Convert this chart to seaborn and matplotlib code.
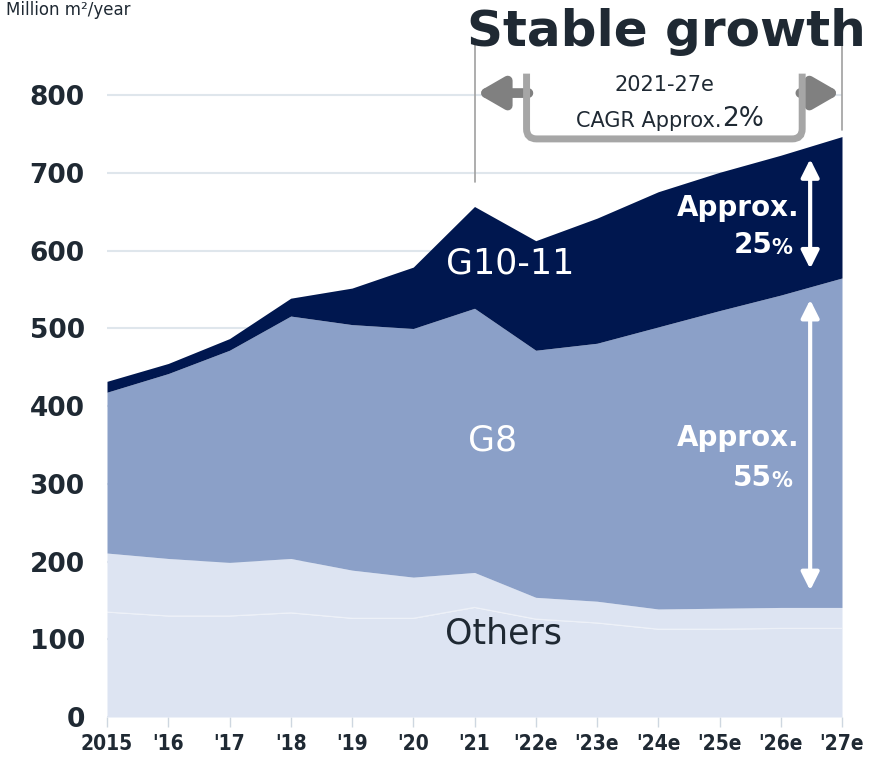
import numpy as np
import pandas as pd
import seaborn as sns
import matplotlib.pyplot as plt
from matplotlib.path import Path
from matplotlib.patches import PathPatch
from matplotlib.transforms import IdentityTransform

# values in million m2 / year
years = ["2015", "'16", "'17", "'18", "'19", "'20", "'21",
         "'22e", "'23e", "'24e", "'25e", "'26e", "'27e"]
others_lower = [135, 130, 130, 134, 127, 127, 141, 126, 121, 113, 113, 114, 114]
others_upper = [76, 74, 69, 70, 62, 53, 45, 28, 28, 26, 27, 27, 27]
g8 = [207, 238, 273, 312, 316, 320, 340, 318, 332, 363, 383, 402, 424]
g10_11 = [14, 13, 15, 23, 47, 79, 131, 141, 161, 174, 178, 180, 182]
y_ticks = [0, 100, 200, 300, 400, 500, 600, 700, 800]

c_others = "#DDE4F2"
c_g8 = "#8BA0C8"
c_g10 = "#00174F"
c_text = "#1F2933"

sns.set_theme(style="white")
plt.rcParams["font.family"] = ["DejaVu Sans"]

df = pd.DataFrame({"year": years, "others_lower": others_lower, "others_upper": others_upper,
                   "G8": g8, "G10-11": g10_11})
x = np.arange(len(df))

fig = plt.figure(figsize=(8.82, 7.58), dpi=100)
ax = fig.add_axes([107 / 882, 41 / 758, 735 / 882, 676 / 758])

ax.stackplot(x, df["others_lower"], df["others_upper"], df["G8"], df["G10-11"],
             colors=[c_others, c_others, c_g8, c_g10], linewidth=0, zorder=2)
# faint split inside the Others band
ax.plot(x, df["others_lower"], color="white", lw=0.9, alpha=0.45, zorder=3)

ax.set_xlim(0, len(df) - 1)
ax.set_ylim(0, 870)
ax.set_yticks(y_ticks)
ax.set_yticklabels([str(v) for v in y_ticks], fontsize=19, fontweight="bold", color=c_text)
ax.set_xticks(x)
ax.set_xticklabels(years, fontsize=15, fontweight="bold", color=c_text, fontstretch="condensed")
ax.grid(axis="y", color="#DFE6EC", lw=1.5, zorder=0)
ax.grid(axis="x", visible=False)
ax.set_axisbelow(True)
sns.despine(ax=ax, left=True, bottom=True, top=True, right=True)
ax.tick_params(axis="x", bottom=True, length=7, width=1, color="#CED7E0", pad=5)
ax.tick_params(axis="y", left=False, length=0, pad=16)

# unit label at the top left
fig.text(6 / 882, 1 - 1 / 758, "Million m\u00b2/year", ha="left", va="top",
         fontsize=12, color=c_text)

# series labels
ax.text(6.58, 584, "G10-11", color="white", fontsize=25, ha="center", va="center", zorder=5)
ax.text(6.3, 356, "G8", color="white", fontsize=25, ha="center", va="center", zorder=5)
ax.text(6.47, 108, "Others", color=c_text, fontsize=25, ha="center", va="center", zorder=5)

# share arrows and labels
arr = dict(arrowstyle="<|-|>,head_length=0.9,head_width=0.45", color="white", lw=3,
           shrinkA=0, shrinkB=0)
ax.annotate("", xy=(11.48, 577), xytext=(11.48, 718), arrowprops=arr, zorder=6)
ax.annotate("", xy=(11.48, 163), xytext=(11.48, 537), arrowprops=arr, zorder=6)
for y_top, y_pct, pct in [(655, 607, "25"), (359, 307, "55")]:
    ax.text(11.31, y_top, "Approx.", color="white", fontsize=20, fontweight="bold",
            ha="right", va="center", zorder=6)
    ax.text(10.86, y_pct, pct, color="white", fontsize=20, fontweight="bold",
            ha="right", va="center", zorder=6)
    ax.text(10.85, y_pct - 3, "%", color="white", fontsize=15, fontweight="bold",
            ha="left", va="center", zorder=6)

# CAGR bracket and arrows above the plot
ax.plot([6, 6], [688, 872], color="#A0A0A0", lw=1.2, clip_on=False, zorder=4)
ax.plot([12, 12], [755, 866], color="#A0A0A0", lw=1.2, clip_on=False, zorder=4)
ax.fill_between([6.85, 11.35], 745, 830, color="white", zorder=3.5, clip_on=False)

# rounded U-shaped bracket, corners built in pixel space
fig.canvas.draw()
(xl, yt), (xr, yb) = ax.transData.transform([(6.85, 828), (11.35, 744)])
r = 10
verts = [(xl, yt), (xl, yb + r), (xl, yb), (xl + r, yb), (xr - r, yb), (xr, yb),
         (xr, yb + r), (xr, yt)]
codes = [Path.MOVETO, Path.LINETO, Path.CURVE3, Path.CURVE3, Path.LINETO,
         Path.CURVE3, Path.CURVE3, Path.LINETO]
fig.add_artist(PathPatch(Path(verts, codes), fill=False, ec="#A6A6A6", lw=5,
                         capstyle="butt", transform=IdentityTransform(), zorder=4.6))

gar = dict(arrowstyle="-|>,head_length=1.3,head_width=0.75", color="#808080", lw=7,
           shrinkA=0, shrinkB=0)
ax.annotate("", xy=(6.03, 803), xytext=(6.88, 803), arrowprops=gar,
            annotation_clip=False, zorder=5)
ax.annotate("", xy=(11.98, 803), xytext=(11.32, 803), arrowprops=gar,
            annotation_clip=False, zorder=5)
ax.text(9.1, 813, "2021-27e", fontsize=15, color=c_text, ha="center", va="center",
        zorder=6)
ax.text(10.04, 767, "CAGR Approx.", fontsize=15, color=c_text, ha="right", va="center",
        zorder=6)
ax.text(10.04, 769, "2%", fontsize=19, color=c_text, ha="left", va="center", zorder=6)

fig.text(666 / 882, 1 - 32 / 758, "Stable growth", fontsize=36, fontweight="bold",
         color=c_text, ha="center", va="center")

fig.savefig("out.png", dpi=100)
